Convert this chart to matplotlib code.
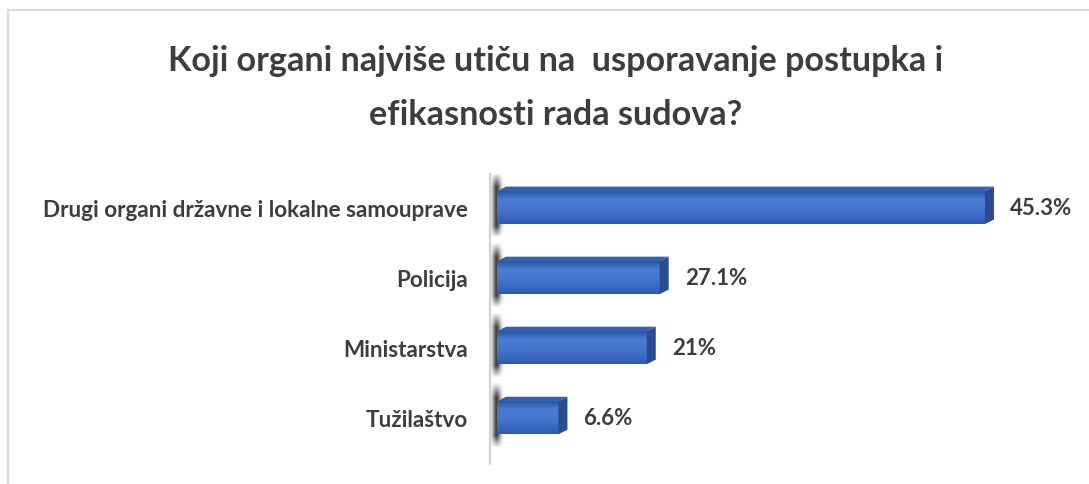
import numpy as np
import matplotlib.pyplot as plt
from matplotlib.patches import Polygon, Rectangle
from matplotlib.colors import LinearSegmentedColormap

plt.rcParams['font.family'] = ['Lato', 'DejaVu Sans']

categories = ['Drugi organi državne i lokalne samouprave', 'Policija',
              'Ministarstva', 'Tužilaštvo']
value_labels = ['45.3%', '27.1%', '21%', '6.6%']
# bar lengths as they are drawn in the source picture
# (there the bars are not proportional to the printed labels)
bar_lengths = [45.3, 15.1, 13.9, 5.7]
title = 'Koji organi najviše utiču na  usporavanje postupka i\nefikasnosti rada sudova?'

fig = plt.figure(figsize=(10.89, 4.85), dpi=100)
fig.patch.set_facecolor('white')

# light frame round the chart area
fig.add_artist(Rectangle((8 / 1089, -0.1), 1.2, 1 - 11 / 485 + 0.1,
                         transform=fig.transFigure, fill=False,
                         edgecolor='#d9d9d9', lw=1.5))

fig.text(0.5106, 0.818, title, ha='center', va='center', fontsize=24.6,
         fontweight='bold', color='#3d3d3d', linespacing=1.85)

ax = fig.add_axes([490 / 1089, 20 / 485, 570 / 1089, 290 / 485])
ax.set_facecolor('none')

y = np.arange(len(categories))
h = 0.47
dx, dy = 0.84, 0.065  # 3d depth in data units

# gray "wall" shadow behind the bar starts
xs = np.linspace(-1, 1, 40)
ys = np.linspace(0, 1, 60)
prof_x = np.exp(-(xs / 0.5) ** 2)
prof_y = np.clip(np.minimum(ys / 0.22, (1 - ys) / 0.18), 0, 1)
alpha = np.outer(prof_y, prof_x) * 0.95
shadow = np.zeros((60, 40, 4))
shadow[..., :3] = 0.22
shadow[..., 3] = alpha
for yi in y:
    ax.imshow(shadow, extent=(-0.8, 0.7, yi + h / 2 + 0.2, yi - h / 2 - 0.26),
              origin='upper', aspect='auto', zorder=1, interpolation='bilinear')

bars = ax.barh(y, bar_lengths, height=h, color='#3f6fc8', zorder=2,
               edgecolor='none')

grad = LinearSegmentedColormap.from_list(
    'face', ['#2b56a3', '#4a7dd5', '#4877d0', '#3c6bc4', '#2f5aae'])
g = np.linspace(0, 1, 50).reshape(-1, 1)
for b, yi, L in zip(bars, y, bar_lengths):
    im = ax.imshow(g, cmap=grad, extent=(0, L, yi + h / 2, yi - h / 2),
                   origin='upper', aspect='auto', zorder=3)
    im.set_clip_path(b)
    top, bot = yi - h / 2, yi + h / 2
    # top face
    ax.add_patch(Polygon([(0, top), (L, top), (L + dx, top - dy), (dx, top - dy)],
                         closed=True, facecolor='#3461b4', edgecolor='none',
                         zorder=3))
    # right side face
    ax.add_patch(Polygon([(L, top), (L + dx, top - dy), (L + dx, bot - dy), (L, bot)],
                         closed=True, facecolor='#2a4c8f', edgecolor='none',
                         zorder=3))

for yi, L, lab in zip(y, bar_lengths, value_labels):
    ax.text(L + dx + 1.5, yi, lab, ha='left', va='center', fontsize=16,
            fontweight='bold', color='#3d3d3d')

ax.set_xlim(-0.65, 52.27)
ax.set_ylim(3.66, -0.48)
ax.set_yticks(y)
ax.set_yticklabels(categories, fontsize=16.2, fontweight='bold', color='#3d3d3d')
ax.tick_params(axis='y', length=0, pad=16)
ax.set_xticks([])
for s in ['top', 'right', 'bottom']:
    ax.spines[s].set_visible(False)
ax.spines['left'].set_color('#d0d0d0')
ax.spines['left'].set_linewidth(1.5)

fig.savefig('out.png', dpi=100, facecolor='white')
